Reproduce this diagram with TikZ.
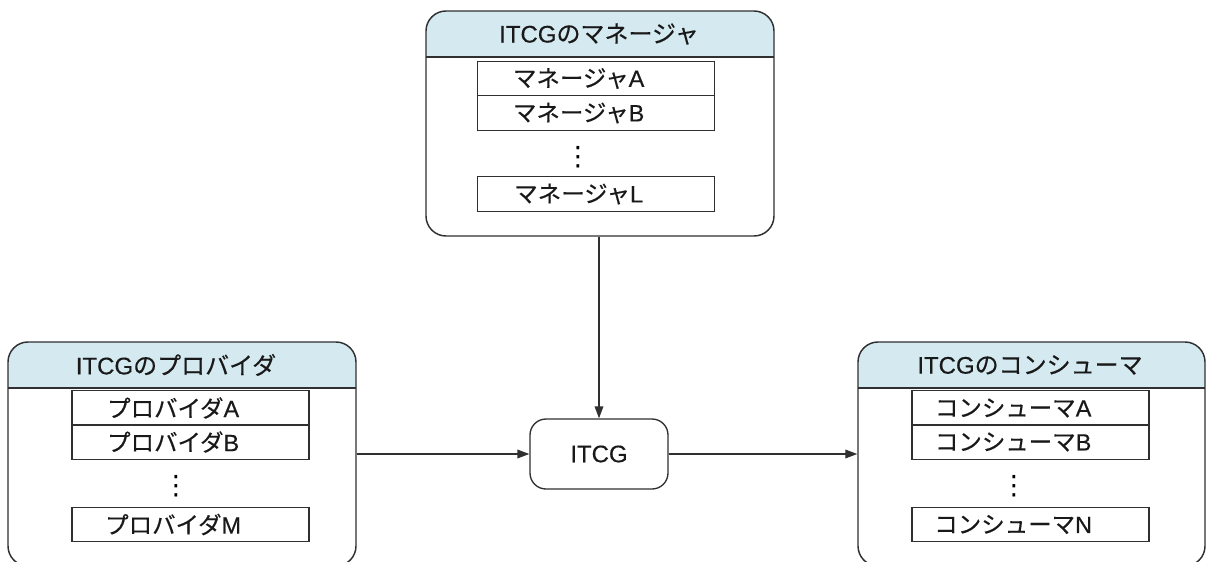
\documentclass[tikz,border=0pt]{standalone}
\usepackage{fontspec}
\setmainfont{Liberation Sans}[UprightFeatures={FakeBold=0.35}]
\newfontfamily\jp{Noto Sans CJK JP}[UprightFeatures={FakeBold=0.35}]
\newfontfamily\dv{DejaVu Sans}
\usetikzlibrary{arrows.meta}
\definecolor{hdrblue}{HTML}{D4EAF0}
\definecolor{linegray}{HTML}{303030}
\newcommand{\itemtxt}[1]{#1\hspace*{26pt}}
\tikzset{
  outerbox/.style={draw=linegray, line width=1.1pt, rounded corners=15pt, minimum width=#1},
  hdrtext/.style={font=\fontsize{18}{21}\selectfont, text=black!90},
  item/.style={draw=linegray, line width=1pt, minimum width=237*0.75pt, minimum height=34.5*0.75pt, inner sep=0pt, font=\fontsize{17.6}{20}\selectfont, text=black!90},
  vdots/.style={font=\dv\fontsize{20}{22}\selectfont, inner sep=0pt, text=black},
  core/.style={draw=linegray, line width=1pt, rounded corners=12pt, minimum width=138*0.75pt, minimum height=70*0.75pt, font=\fontsize{18}{21}\selectfont, text=black!90},
  conn/.style={draw=linegray, line width=1pt, -{Triangle[length=9pt,width=6.5pt]}}
}
\begin{document}
\begin{tikzpicture}[x=0.75pt,y=-0.75pt]
\clip (0,0) rectangle (1206,561);
\fill[white] (0,0) rectangle (1206,561);
% ---------- manager box
\coordinate (mgrTL) at (426,11);
\coordinate (mgrBR) at (774,236);
\begin{scope}
  \clip[rounded corners=15pt] (mgrTL) rectangle (mgrBR);
  \fill[hdrblue] (mgrTL) rectangle (774,57);
\end{scope}
\node[outerbox=348*0.75pt, minimum height=225*0.75pt] (mgr) at (600,123.5) {};
\draw[linegray, line width=1.1pt] (426,57) -- (774,57);
\node[hdrtext] (mgrh) at (599,34) {ITCG{\jp のマネージャ}};
\node[item] (mA) at (596,78.5) {\itemtxt{{\jp マネージャ}A}};
\node[item] (mB) at (596,113) {\itemtxt{{\jp マネージャ}B}};
\node[vdots] (mD) at (578,157) {⋮};
\node[item] (mL) at (596,194) {\itemtxt{{\jp マネージャ}L}};
% ---------- provider box
\coordinate (prvTL) at (8,342);
\coordinate (prvBR) at (356,566);
\begin{scope}
  \clip[rounded corners=15pt] (prvTL) rectangle (prvBR);
  \fill[hdrblue] (prvTL) rectangle (356,388);
\end{scope}
\node[outerbox=348*0.75pt, minimum height=224*0.75pt] (prv) at (182,454) {};
\draw[linegray, line width=1.1pt] (8,388) -- (356,388);
\node[hdrtext] (prvh) at (176,365) {ITCG{\jp のプロバイダ}};
\node[item] (pA) at (190.5,408) {\itemtxt{{\jp プロバイダ}A}};
\node[item] (pB) at (190.5,442) {\itemtxt{{\jp プロバイダ}B}};
\node[vdots] (pD) at (176,486) {⋮};
\node[item] (pM) at (190.5,524.5) {\itemtxt{{\jp プロバイダ}M}};
% ---------- consumer box
\coordinate (conTL) at (858,342);
\coordinate (conBR) at (1205,566);
\begin{scope}
  \clip[rounded corners=15pt] (conTL) rectangle (conBR);
  \fill[hdrblue] (conTL) rectangle (1205,388);
\end{scope}
\node[outerbox=347*0.75pt, minimum height=224*0.75pt] (con) at (1031.5,454) {};
\draw[linegray, line width=1.1pt] (858,388) -- (1205,388);
\node[hdrtext] (conh) at (1030,365) {ITCG{\jp のコンシューマ}};
\node[item] (cA) at (1030.5,408) {\itemtxt{{\jp コンシューマ}A}};
\node[item] (cB) at (1030.5,442) {\itemtxt{{\jp コンシューマ}B}};
\node[vdots] (cD) at (1014,486) {⋮};
\node[item] (cN) at (1030.5,524.5) {\itemtxt{{\jp コンシューマ}N}};
% ---------- core
\node[core] (itcg) at (599,454) {ITCG};
% ---------- connectors
\draw[conn] (mgr.south -| itcg.north) -- (itcg.north);
\draw[conn] (itcg.west -| prv.east) -- (itcg.west);
\draw[conn] (itcg.east) -- (itcg.east -| con.west);
\end{tikzpicture}
\end{document}
